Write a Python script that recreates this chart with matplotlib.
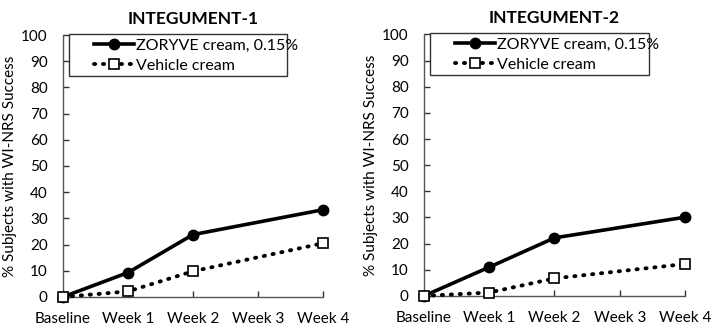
import matplotlib.pyplot as plt
from matplotlib.patches import Rectangle

plt.rcParams['font.family'] = ['Lato', 'DejaVu Sans']

visits = ['Baseline', 'Week 1', 'Week 2', 'Week 3', 'Week 4']
visit_x = [0, 1, 2, 4]

titles = ['INTEGUMENT-1', 'INTEGUMENT-2']
zoryve = [
    [0, 9.3, 23.8, 33.3],
    [0, 11.0, 22.2, 30.1],
]
vehicle = [
    [0, 2.1, 9.8, 20.5],
    [0, 1.3, 6.7, 12.2],
]

fig = plt.figure(figsize=(7.18, 3.34), dpi=100)
boxes = [[0.0877, 0.111, 0.3623, 0.784], [0.5905, 0.114, 0.3635, 0.783]]

for box, title, active, veh in zip(boxes, titles, zoryve, vehicle):
    ax = fig.add_axes(box)
    ax.plot(visit_x, active, color='black', lw=2.6, marker='o', ms=7.5,
            label='ZORYVE cream, 0.15%', clip_on=False, zorder=3)
    ax.plot(visit_x, veh, color='black', lw=2.8, ls=(0, (0.3, 2.0)),
            dash_capstyle='round', marker='s', ms=7.5, mfc='white', mec='black',
            mew=1.2, label='Vehicle cream', clip_on=False, zorder=3)

    ax.set_xlim(0, 4)
    ax.set_ylim(0, 100)
    ax.set_xticks(range(len(visits)))
    ax.set_xticklabels(visits)
    ax.set_yticks(range(0, 101, 10))
    ax.tick_params(direction='in', length=4, width=1, labelsize=11,
                   color='#333333')
    ax.tick_params(axis='y', pad=11)
    ax.tick_params(axis='x', pad=11)
    for side in ['top', 'right']:
        ax.spines[side].set_visible(False)
    for side in ['left', 'bottom']:
        ax.spines[side].set_color('#555555')
        ax.spines[side].set_linewidth(1)

    ax.set_ylabel('% Subjects with WI-NRS Success', fontsize=11, labelpad=3)
    ax.set_title(title, fontsize=12.5, fontweight='bold', pad=8)

    # legend frame drawn separately so it can be wider than its entries
    ax.add_patch(Rectangle((0.023, 0.843), 0.839, 0.161, transform=ax.transAxes,
                           facecolor='white', edgecolor='#333333', lw=1,
                           clip_on=False, zorder=4))
    leg = ax.legend(loc='upper left', bbox_to_anchor=(0.1, 1.005),
                    fontsize=11.5, frameon=False, handlelength=2.5,
                    borderpad=0.3, labelspacing=0.35, handletextpad=0.15,
                    borderaxespad=0)
    leg.set_zorder(5)

fig.savefig('out.png', dpi=100)
